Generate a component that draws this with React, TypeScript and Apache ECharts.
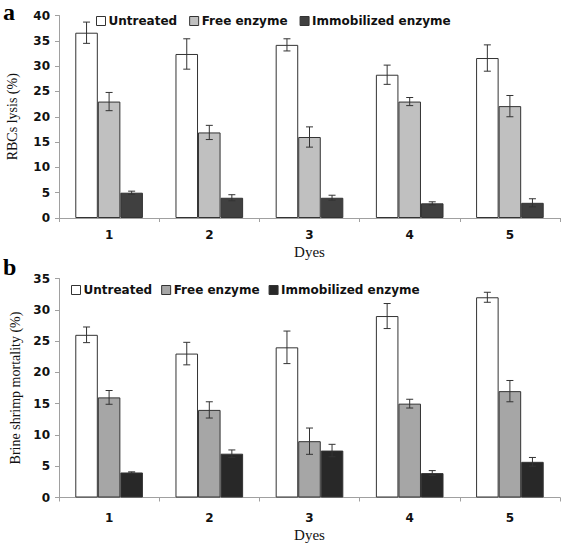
import React, { useEffect, useRef } from "react";
import * as echarts from "echarts";

const dyes = ["1", "2", "3", "4", "5"];
const seriesNames = ["Untreated", "Free enzyme", "Immobilized enzyme"];

// Panel a: RBCs lysis (%)
const lysisUntreated = [36.6, 32.4, 34.2, 28.3, 31.6];
const lysisUntreatedErr = [2.1, 3.0, 1.2, 1.9, 2.6];
const lysisFree = [23.0, 16.9, 16.0, 23.0, 22.1];
const lysisFreeErr = [1.8, 1.4, 2.0, 0.8, 2.1];
const lysisImmob = [5.0, 4.0, 4.0, 2.9, 3.0];
const lysisImmobErr = [0.3, 0.6, 0.5, 0.3, 0.8];

// Panel b: Brine shrimp mortality (%)
const mortUntreated = [26.0, 23.0, 24.0, 29.0, 32.0];
const mortUntreatedErr = [1.25, 1.8, 2.6, 2.0, 0.8];
const mortFree = [16.0, 14.0, 9.0, 15.0, 17.0];
const mortFreeErr = [1.1, 1.3, 2.1, 0.7, 1.7];
const mortImmob = [4.0, 7.0, 7.5, 3.9, 5.7];
const mortImmobErr = [0.1, 0.6, 1.0, 0.4, 0.7];

const colorsA = ["#ffffff", "#c0c0c0", "#404040"];
const colorsB = ["#ffffff", "#a6a6a6", "#282828"];

const BAR_FRAC = 0.225;

function errorSeries(
  values: number[],
  errs: number[],
  pos: number,
  axisIndex: number
) {
  return {
    type: "custom",
    name: "err" + axisIndex + "_" + pos,
    xAxisIndex: axisIndex,
    yAxisIndex: axisIndex,
    z: 10,
    silent: true,
    encode: { x: 0, y: [1, 2] },
    data: values.map((v, i) => [i, v + errs[i], v - errs[i]]),
    renderItem: (params: any, api: any) => {
      const band = api.size([1, 0])[0];
      const off = (pos - 1) * band * BAR_FRAC;
      const top = api.coord([api.value(0), api.value(1)]);
      const bot = api.coord([api.value(0), api.value(2)]);
      const x = top[0] + off;
      const cap = 3.5;
      const style = { stroke: "#333333", lineWidth: 1 };
      return {
        type: "group",
        children: [
          { type: "line", shape: { x1: x, y1: top[1], x2: x, y2: bot[1] }, style },
          { type: "line", shape: { x1: x - cap, y1: top[1], x2: x + cap, y2: top[1] }, style },
          { type: "line", shape: { x1: x - cap, y1: bot[1], x2: x + cap, y2: bot[1] }, style },
        ],
      };
    },
  };
}

function barSeries(name: string, values: number[], color: string, axisIndex: number) {
  return {
    type: "bar",
    name,
    xAxisIndex: axisIndex,
    yAxisIndex: axisIndex,
    data: values,
    barWidth: "22.5%",
    barGap: "0%",
    itemStyle: { color, borderColor: "#333333", borderWidth: 1 },
  };
}

const axisGrey = "#a0a0a0";
const tickFont = {
  fontFamily: "DejaVu Sans",
  fontWeight: "bold" as const,
  fontSize: 12,
  color: "#111111",
};

function xAxisCfg(gridIndex: number, nameGap: number, labelMargin: number) {
  return {
    type: "category",
    gridIndex,
    data: dyes,
    name: "Dyes",
    nameLocation: "middle",
    nameGap,
    nameTextStyle: { fontFamily: "Liberation Serif", fontSize: 15, color: "#111111" },
    axisLine: { lineStyle: { color: axisGrey } },
    axisTick: { show: true, length: 4, interval: 0, lineStyle: { color: axisGrey } },
    axisLabel: { ...tickFont, margin: labelMargin },
  };
}

function yAxisCfg(gridIndex: number, max: number, name: string, nameGap: number) {
  return {
    type: "value",
    gridIndex,
    min: 0,
    max,
    interval: 5,
    name,
    nameLocation: "middle",
    nameGap,
    nameTextStyle: { fontFamily: "Liberation Serif", fontSize: 14, color: "#111111" },
    axisLine: { show: true, lineStyle: { color: axisGrey } },
    axisTick: { show: true, length: 4, lineStyle: { color: axisGrey } },
    splitLine: { show: false },
    axisLabel: { ...tickFont, margin: 9 },
  };
}

function legendCfg(left: number, top: number, gap: number, colors: string[]) {
  return {
    left,
    top,
    itemGap: gap,
    itemWidth: 9,
    itemHeight: 9,
    icon: "rect",
    selectedMode: false,
    textStyle: { ...tickFont, fontSize: 12, padding: [0, 0, 0, -2] },
    data: seriesNames.map((n, i) => ({
      name: n,
      itemStyle: { color: colors[i], borderColor: "#333333", borderWidth: 1 },
    })),
  };
}

export default function App() {
  const ref = useRef<HTMLDivElement>(null);
  useEffect(() => {
    if (!ref.current) return;
    const chart = echarts.init(ref.current, null, { renderer: "svg" });
    chart.setOption({
      animation: false,
      backgroundColor: "#ffffff",
      grid: [
        { left: 59, right: 7, top: 15.5, height: 202.5, containLabel: false, outerBoundsMode: "none" },
        { left: 59, right: 7, top: 278.5, height: 219, containLabel: false, outerBoundsMode: "none" },
      ],
      legend: [legendCfg(91, 10, 12, colorsA), legendCfg(66, 279, 9, colorsB)],
      xAxis: [xAxisCfg(0, 26, 11), xAxisCfg(1, 30, 14)],
      yAxis: [
        yAxisCfg(0, 40, "RBCs lysis (%)", 40),
        yAxisCfg(1, 35, "Brine shrimp mortality (%)", 37),
      ],
      graphic: [
        {
          type: "text",
          left: 3,
          top: 0,
          style: { text: "a", fontFamily: "Liberation Serif", fontWeight: "bold", fontSize: 24, fill: "#000" },
        },
        {
          type: "text",
          left: 3,
          top: 255,
          style: { text: "b", fontFamily: "Liberation Serif", fontWeight: "bold", fontSize: 24, fill: "#000" },
        },
      ],
      series: [
        barSeries(seriesNames[0], lysisUntreated, colorsA[0], 0),
        barSeries(seriesNames[1], lysisFree, colorsA[1], 0),
        barSeries(seriesNames[2], lysisImmob, colorsA[2], 0),
        barSeries(seriesNames[0], mortUntreated, colorsB[0], 1),
        barSeries(seriesNames[1], mortFree, colorsB[1], 1),
        barSeries(seriesNames[2], mortImmob, colorsB[2], 1),
        errorSeries(lysisUntreated, lysisUntreatedErr, 0, 0),
        errorSeries(lysisFree, lysisFreeErr, 1, 0),
        errorSeries(lysisImmob, lysisImmobErr, 2, 0),
        errorSeries(mortUntreated, mortUntreatedErr, 0, 1),
        errorSeries(mortFree, mortFreeErr, 1, 1),
        errorSeries(mortImmob, mortImmobErr, 2, 1),
      ],
    });
    return () => chart.dispose();
  }, []);
  return <div ref={ref} style={{ width: 567, height: 544, position: "absolute", left: 0, top: 0 }} />;
}
